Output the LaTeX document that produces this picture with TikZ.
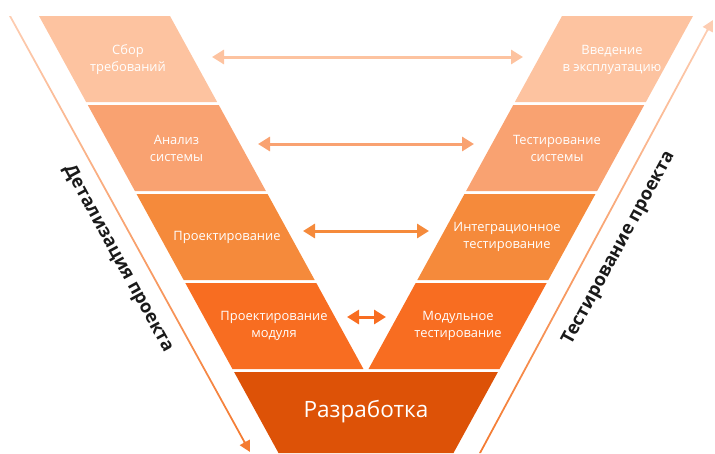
\documentclass[tikz,border=0pt]{standalone}
\usepackage{fontspec}
\setmainfont{Open Sans}
\usetikzlibrary{arrows.meta,calc}
\definecolor{cA}{HTML}{FDC3A0}
\definecolor{cB}{HTML}{F9A271}
\definecolor{cC}{HTML}{F58A3B}
\definecolor{cD}{HTML}{F86D21}
\definecolor{cE}{HTML}{DD5207}
\definecolor{lineLight}{HTML}{FDCDB2}
\definecolor{lineDark}{HTML}{F47A30}
\definecolor{labelInk}{HTML}{1A1A1A}
\begin{document}
\begin{tikzpicture}[x=1pt,y=-1pt,
  lbl/.style={text=white,font=\fontsize{12.9}{17}\selectfont,align=center,inner sep=0pt},
  big/.style={text=white,font=\fontsize{22.5}{26}\selectfont,inner sep=0pt},
  side/.style={text=labelInk,font=\bfseries\fontsize{18.2}{21}\selectfont,inner sep=0pt},
  harrow/.style={line width=3pt,{Triangle[length=12pt,width=14pt]}-{Triangle[length=12pt,width=14pt]}},
  sidetip/.style={line width=2pt,-{Triangle[length=11pt,width=11pt]}}]
\useasboundingbox (0,0) rectangle (715,453);
% stage blocks
\foreach \t/\c in {16/cA,105/cB,194/cC,283/cD}{
  \pgfmathsetmacro\b{\t+86}
  \pgfmathsetmacro\la{39+0.548*(\t-16)}
  \pgfmathsetmacro\lb{39+0.548*(\b-16)}
  \pgfmathsetmacro\ra{693-0.548*(\t-16)}
  \pgfmathsetmacro\rb{693-0.548*(\b-16)}
  \fill[\c] (\la,\t) -- (\la+131,\t) -- (\lb+131,\b) -- (\lb,\b) -- cycle;
  \fill[\c] (\ra-131,\t) -- (\ra,\t) -- (\rb,\b) -- (\rb-131,\b) -- cycle;
}
\fill[cE] (234.1,372) -- (497.9,372) -- (453.5,453) -- (278.5,453) -- cycle;
% labels
\node[lbl] (l1) at (128,59.5) {Сбор\\требований};
\node[lbl] (l2) at (176.5,148.5) {Анализ\\системы};
\node[lbl] (l3) at (227,237) {Проектирование};
\node[lbl] (l4) at (274,325.5) {Проектирование\\модуля};
\node[lbl] (r1) at (612,59.5) {Введение\\в эксплуатацию};
\node[lbl] (r2) at (557,148.5) {Тестирование\\системы};
\node[lbl] (r3) at (507,237) {Интеграционное\\тестирование};
\node[lbl] (r4) at (458,325.5) {Модульное\\тестирование};
\node[big] (dev) at (366,412) {Разработка};
% horizontal arrows
\coordinate (a1l) at (212,57);  \coordinate (a1r) at (523,57);
\coordinate (a2l) at (258,144); \coordinate (a2r) at (474,144);
\coordinate (a3l) at (303,231); \coordinate (a3r) at (429,231);
\coordinate (a4l) at (347,317); \coordinate (a4r) at (386,317);
\draw[harrow,draw=cA,fill=cA] (a1l) -- (a1r);
\draw[harrow,draw=cB,fill=cB] (a2l) -- (a2r);
\draw[harrow,draw=cC,fill=cC] (a3l) -- (a3r);
\draw[harrow,draw=cD,fill=cD] (a4l) -- (a4r);
% side lines
\coordinate (ls) at (10,16);
\coordinate (le) at (250,452);
\coordinate (rs) at (480,453);
\coordinate (re) at (713,20);
\shade[top color=lineLight,bottom color=lineDark] (9,16) -- (11,16) -- (246,443) -- (244,443) -- cycle;
\draw[sidetip,draw=lineDark,fill=lineDark] ($(le)!12pt!(ls)$) -- (le);
\shade[top color=lineLight,bottom color=lineDark] (479,453) -- (481,453) -- (709,29) -- (707,29) -- cycle;
\draw[sidetip,draw=lineLight,fill=lineLight] ($(re)!12pt!(rs)$) -- (re);
\node[side,rotate=-61.3] (lt) at (118,259) {Детализация проекта};
\node[side,rotate=61.5] (rt) at (619,248) {Тестирование проекта};
\end{tikzpicture}
\end{document}
